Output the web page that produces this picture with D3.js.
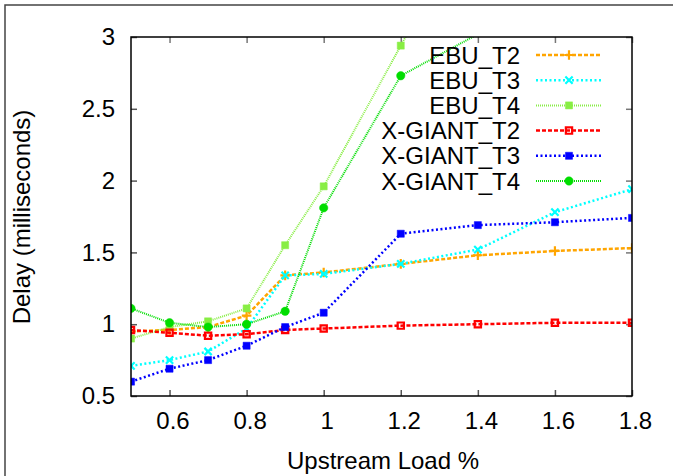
<!DOCTYPE html>
<html>
<head>
<meta charset="utf-8">
<script src="https://cdn.jsdelivr.net/npm/d3@7"></script>
<style>
  body { margin: 0; background: #fff; }
  text { font-family: "Liberation Sans", Arial, sans-serif; }
</style>
</head>
<body>
<div id="container"></div>
<script>
// values
let loads = [0.5, 0.6, 0.7, 0.8, 0.9, 1.0, 1.2, 1.4, 1.6, 1.8];
let ebuT2 = [0.95, 0.96, 0.98, 1.06, 1.34, 1.36, 1.42, 1.48, 1.51, 1.53];
let ebuT3 = [0.71, 0.75, 0.81, 0.97, 1.34, 1.35, 1.42, 1.52, 1.78, 1.94];
let ebuT4 = [0.90, 0.98, 1.02, 1.11, 1.55, 1.96, 2.94, 3.9, 4.8, 5.6];
let xgT2 = [0.96, 0.94, 0.92, 0.93, 0.96, 0.97, 0.99, 1.00, 1.01, 1.01];
let xgT3 = [0.60, 0.69, 0.75, 0.85, 0.98, 1.08, 1.63, 1.69, 1.71, 1.74];
let xgT4 = [1.11, 1.01, 0.98, 1.00, 1.09, 1.81, 2.73, 3.02, 3.3, 3.6];
let seriesNames = ["EBU_T2", "EBU_T3", "EBU_T4", "X-GIANT_T2", "X-GIANT_T3", "X-GIANT_T4"];
let xTicks = [0.6, 0.8, 1.0, 1.2, 1.4, 1.6, 1.8];
let yTicks = [0.5, 1, 1.5, 2, 2.5, 3];

let allValues = [ebuT2, ebuT3, ebuT4, xgT2, xgT3, xgT4];

// look of each series (gnuplot style)
let styles = [
  {color: "#ffa500", dash: "4,2", width: 2.5, symbol: d3.symbolPlus, size: 32, fill: false},
  {color: "#00ffff", dash: "2,2.5", width: 2.5, symbol: d3.symbolTimes, size: 36, fill: false},
  {color: "#88ee44", dash: "1,1", width: 2, symbol: d3.symbolSquare, size: 50, fill: true},
  {color: "#ff0000", dash: "4,2", width: 2.5, symbol: d3.symbolSquare2, size: 50, fill: false},
  {color: "#0000ff", dash: "2,2.5", width: 2.5, symbol: d3.symbolSquare, size: 50, fill: true},
  {color: "#00dd00", dash: "1,1", width: 2, symbol: d3.symbolCircle, size: 55, fill: true}
];

let w = 673;
let h = 476;
let padLeft = 131, padRight = 632, padTop = 37, padBottom = 396;

let viz = d3.select("#container")
  .append("svg")
    .attr("width", w)
    .attr("height", h)
;

// outer frame (only top and left show in the picture)
viz.append("path")
  .attr("d", "M5," + h + "V5H" + w)
  .attr("fill", "none")
  .attr("stroke", "#444")
  .attr("stroke-width", 1.5);

let xScale = d3.scaleLinear().domain([0.5, 1.8]).range([padLeft, padRight]);
let yScale = d3.scaleLinear().domain([0.5, 3]).range([padBottom, padTop]);

let fmt = function(d){ return String(+d.toFixed(1)); };

let xAxis = d3.axisBottom(xScale).tickValues(xTicks).tickSizeInner(-6).tickSizeOuter(0)
  .tickPadding(16).tickFormat(fmt);
let yAxis = d3.axisLeft(yScale).tickValues(yTicks).tickSizeInner(-6).tickSizeOuter(0)
  .tickPadding(16).tickFormat(fmt);
let xAxisTop = d3.axisTop(xScale).tickValues(xTicks).tickSizeInner(-6).tickSizeOuter(0).tickFormat("");
let yAxisRight = d3.axisRight(yScale).tickValues(yTicks).tickSizeInner(-6).tickSizeOuter(0).tickFormat("");

function styleAxis(g, tickColor){
  g.select(".domain").remove();
  g.selectAll(".tick line").attr("stroke", tickColor).attr("stroke-width", 1.5);
  g.selectAll(".tick text").attr("font-size", 24).attr("fill", "#000")
    .attr("font-family", "Liberation Sans, Arial, sans-serif");
}

viz.append("g").attr("transform", "translate(0," + padBottom + ")").call(xAxis)
  .call(styleAxis, "#555")
  .selectAll(".tick text").attr("dx", 3);
viz.append("g").attr("transform", "translate(" + padLeft + ",0)").call(yAxis).call(styleAxis, "#555");
viz.append("g").attr("transform", "translate(0," + padTop + ")").call(xAxisTop).call(styleAxis, "#777");
viz.append("g").attr("transform", "translate(" + padRight + ",0)").call(yAxisRight).call(styleAxis, "#777");

viz.append("defs").append("clipPath").attr("id", "plotclip")
  .append("rect").attr("x", padLeft).attr("y", padTop)
  .attr("width", padRight - padLeft).attr("height", padBottom - padTop);

let graphGroup = viz.append("g").attr("class", "graphGroup").attr("clip-path", "url(#plotclip)");

let lineMaker = d3.line()
  .x(function(d){ return xScale(d.x); })
  .y(function(d){ return yScale(d.y); });

function markerPath(st){
  return d3.symbol().type(st.symbol).size(st.size)();
}

allValues.forEach(function(vals, k){
  let st = styles[k];
  let pts = loads.map(function(x, i){ return {x: x, y: vals[i]}; });
  graphGroup.append("path")
    .datum(pts)
    .attr("d", lineMaker)
    .attr("fill", "none")
    .attr("stroke", st.color)
    .attr("stroke-width", st.width)
    .attr("stroke-dasharray", st.dash);

  graphGroup.selectAll(".pt" + k)
    .data(pts.filter(function(d){ return d.y <= 3; }))
    .enter()
    .append("path")
      .attr("class", "pt" + k)
      .attr("transform", function(d){ return "translate(" + xScale(d.x) + "," + yScale(d.y) + ")"; })
      .attr("d", markerPath(st))
      .attr("fill", st.fill ? st.color : "none")
      .attr("stroke", st.color)
      .attr("stroke-width", st.fill ? 0.5 : 2.2);
});

// frame of the plot area
viz.append("rect")
  .attr("x", padLeft).attr("y", padTop)
  .attr("width", padRight - padLeft).attr("height", padBottom - padTop)
  .attr("fill", "none").attr("stroke", "#000").attr("stroke-width", 1.5);

// legend
let legend = viz.append("g").attr("class", "legend");
seriesNames.forEach(function(name, k){
  let st = styles[k];
  let ly = 55 + k * 25.2;
  legend.append("text")
    .attr("x", 520).attr("y", ly)
    .attr("dy", "0.36em")
    .attr("text-anchor", "end")
    .attr("font-size", 24)
    .text(name);
  legend.append("line")
    .attr("x1", 536).attr("x2", 602).attr("y1", ly).attr("y2", ly)
    .attr("stroke", st.color).attr("stroke-width", st.width)
    .attr("stroke-dasharray", st.dash);
  legend.append("path")
    .attr("transform", "translate(569," + ly + ")")
    .attr("d", markerPath(st))
    .attr("fill", st.fill ? st.color : "none")
    .attr("stroke", st.color)
    .attr("stroke-width", st.fill ? 0.5 : 2.2);
});

// axis titles
viz.append("text")
  .attr("x", 383).attr("y", 469)
  .attr("text-anchor", "middle")
  .attr("font-size", 24)
  .text("Upstream Load %");

viz.append("text")
  .attr("transform", "translate(30,217) rotate(-90)")
  .attr("text-anchor", "middle")
  .attr("font-size", 24)
  .text("Delay (milliseconds)");
</script>
</body>
</html>
